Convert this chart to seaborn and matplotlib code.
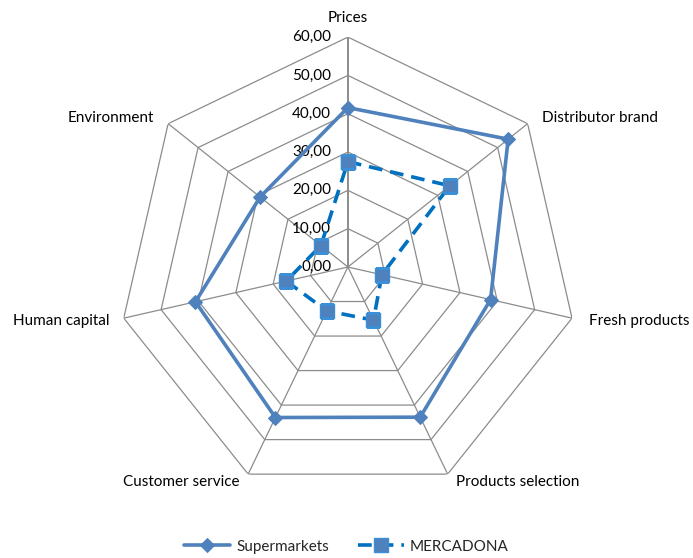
import numpy as np
import pandas as pd
import matplotlib
matplotlib.use('Agg')
import matplotlib.pyplot as plt
import seaborn as sns

sns.set_style('white')
plt.rcParams['font.family'] = ['Lato', 'DejaVu Sans']

# datos
categories = ['Prices', 'Distributor brand', 'Fresh products', 'Products selection',
              'Customer service', 'Human capital', 'Environment']
supermarkets = [41.6, 53.5, 38.2, 43.5, 43.6, 40.8, 29.3]
mercadona = [27.5, 34.0, 9.1, 15.4, 12.7, 16.5, 9.0]
rings = [0, 10, 20, 30, 40, 50, 60]
ring_labels = ['0,00', '10,00', '20,00', '30,00', '40,00', '50,00', '60,00']

n = len(categories)
theta = np.linspace(0, 2 * np.pi, n, endpoint=False)
theta_closed = np.append(theta, 2 * np.pi)

fig = plt.figure(figsize=(6.93, 5.58), dpi=100)
ax = fig.add_axes([0.502 - 0.332, 0.5215 - 0.412, 0.664, 0.824], projection='polar')
ax.set_theta_zero_location('N')
ax.set_theta_direction(-1)
ax.set_ylim(0, 60)
ax.grid(False)
ax.spines['polar'].set_visible(False)

grid_col = '#8c8c8c'
# rejilla poligonal
for r in rings[1:]:
    ax.plot(theta_closed, [r] * (n + 1), color=grid_col, lw=0.9, zorder=1)
for t in theta:
    ax.plot([t, t], [0, 60], color=grid_col, lw=0.9 if t > 0 else 1.4, zorder=1)

# etiquetas del eje
for r, lab in zip(rings, ring_labels):
    ax.annotate(lab, xy=(0, r), xytext=(-12, 0), textcoords='offset points',
                ha='right', va='center', fontsize=11, color='black')

# etiquetas de categorias
offsets = [(0, 9, 'center', 'bottom'), (10, -1, 'left', 'bottom'), (12, -2, 'left', 'center'),
           (6, -6, 'left', 'center'), (-6, -6, 'right', 'center'), (-10, -2, 'right', 'center'),
           (-10, -1, 'right', 'bottom')]
for t, lab, (dx, dy, ha, va) in zip(theta, categories, offsets):
    ax.annotate(lab, xy=(t, 60), xytext=(dx, dy), textcoords='offset points',
                ha=ha, va=va, fontsize=11, color='black')

df_s = pd.DataFrame({'theta': theta_closed, 'r': supermarkets + supermarkets[:1]})
df_m = pd.DataFrame({'theta': theta_closed, 'r': mercadona + mercadona[:1]})

sns.lineplot(data=df_s, x='theta', y='r', sort=False, ax=ax, color='#4F81BD', lw=2.6,
             marker='D', markersize=7, markeredgecolor='#4F81BD', label='Supermarkets', zorder=3)
sns.lineplot(data=df_m, x='theta', y='r', sort=False, ax=ax, color='#0070C0', lw=2.6,
             dashes=False, linestyle=(0, (3.8, 2.2)), marker='s', markersize=10,
             markerfacecolor='#4F81BD', markeredgecolor='#3A8FD6', markeredgewidth=1,
             label='MERCADONA', zorder=3)
ax.set_xlabel('')
ax.set_ylabel('')
ax.set_xticks([])
ax.set_yticks([])
ax.set_ylim(0, 60)

handles, labels = ax.get_legend_handles_labels()
ax.get_legend().remove()
fig.legend(handles, labels, loc='lower center', bbox_to_anchor=(0.5, -0.017), ncol=2,
           frameon=False, fontsize=11, handlelength=3.0, handletextpad=0.4, columnspacing=1.9)

fig.savefig('out.png', dpi=100)
